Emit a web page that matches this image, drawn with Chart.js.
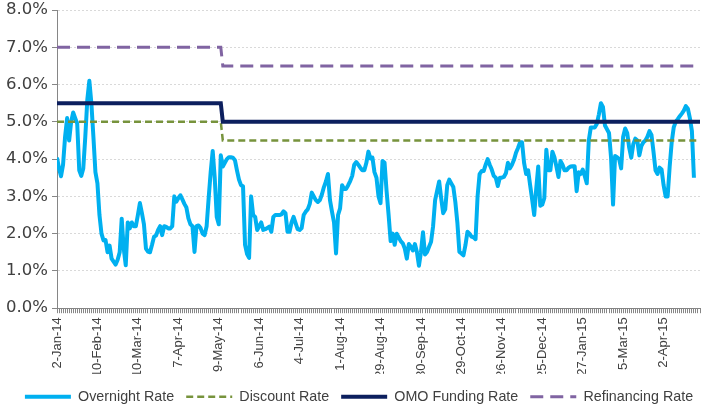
<!DOCTYPE html>
<html>
<head>
<meta charset="utf-8">
<script src="https://cdn.jsdelivr.net/npm/chart.js@4.4.1/dist/chart.umd.min.js"></script>
<style>
    html, body { margin: 0; padding: 0; background: #fff; }
    #wrap { width: 702px; height: 410px; }
</style>
</head>
<body>
<div id="wrap"><canvas id="rateChart" width="702" height="410"></canvas></div>
<script>
// --- Data ---
const tickLabels = ['2-Jan-14', '10-Feb-14', '10-Mar-14', '7-Apr-14', '9-May-14', '6-Jun-14', '4-Jul-14', '1-Aug-14',
    '29-Aug-14', '30-Sep-14', '29-Oct-14', '26-Nov-14', '25-Dec-14', '27-Jan-15', '5-Mar-15', '2-Apr-15'];
const labelEvery = 20;      // one date label every 20 trading days
const lastDay = 318;        // index of the last trading day on the axis

// overnight rate, one value per trading day (%)
const overnight = [
    4.04, 3.75, 3.54, 3.85, 4.6, 5.1, 4.5, 5.0, 5.25, 5.1,
    4.95, 3.7, 3.55, 3.75, 4.6, 5.6, 6.1, 5.5, 4.6, 3.65,
    3.35, 2.5, 2.0, 1.82, 1.83, 1.5, 1.68, 1.33, 1.25, 1.17,
    1.3, 1.5, 2.4, 1.6, 1.15, 2.3, 2.14, 2.3, 2.2, 2.2,
    2.5, 2.82, 2.55, 2.25, 1.6, 1.52, 1.5, 1.7, 1.92, 1.95,
    2.1, 2.2, 1.96, 2.2, 2.18, 2.14, 2.14, 2.2, 3.0, 2.86,
    2.95, 3.03, 2.92, 2.8, 2.7, 2.41, 2.25, 2.2, 1.51, 2.2,
    2.22, 2.15, 2.0, 1.96, 2.2, 2.95, 3.65, 4.22, 3.5, 2.45,
    2.25, 4.1, 3.8, 3.9, 4.0, 4.05, 4.05, 4.04, 3.97, 3.7,
    3.45, 3.3, 3.27, 1.7, 1.45, 1.35, 3.0, 2.5, 2.45, 2.1,
    2.2, 2.3, 2.1, 2.12, 2.15, 2.19, 2.05, 2.45, 2.5, 2.5,
    2.5, 2.52, 2.6, 2.55, 2.05, 2.05, 2.3, 2.45, 2.28, 2.12,
    2.1, 2.15, 2.5, 2.59, 2.65, 2.8, 3.1, 3.0, 2.9, 2.85,
    2.9, 3.05, 3.25, 3.4, 3.6, 2.9, 2.59, 2.3, 1.47, 2.5,
    2.68, 3.3, 3.2, 3.2, 3.3, 3.41, 3.55, 3.85, 3.92, 3.85,
    3.77, 3.7, 3.7, 3.9, 4.2, 4.02, 4.04, 3.65, 3.5, 3.0,
    2.82, 3.95, 3.9, 3.14, 2.5, 1.8, 2.0, 1.7, 2.0, 1.9,
    1.8, 1.74, 1.6, 1.33, 1.72, 1.65, 1.55, 1.72, 1.51, 1.14,
    1.5, 2.04, 1.44, 1.51, 1.65, 1.78, 2.2, 2.9, 3.15, 3.4,
    2.95, 2.55, 2.65, 3.3, 3.45, 3.35, 3.25, 2.85, 2.3, 1.51,
    1.47, 1.42, 1.69, 2.05, 2.0, 1.92, 1.9, 1.85, 3.0, 3.6,
    3.68, 3.68, 3.85, 4.0, 3.85, 3.72, 3.55, 3.5, 3.28, 3.5,
    3.5, 3.52, 3.62, 3.9, 3.75, 3.85, 3.98, 4.17, 4.3, 4.45,
    4.45, 3.9, 3.6, 3.7, 3.3, 2.91, 2.5, 3.2, 3.8, 2.75,
    2.78, 2.95, 4.25, 3.7, 3.7, 4.2, 4.05, 3.8, 3.52, 3.95,
    3.85, 3.7, 3.7, 3.77, 3.8, 3.81, 3.81, 3.14, 3.65, 3.6,
    3.72, 3.55, 3.35, 4.5, 4.85, 4.85, 4.85, 4.95, 5.2, 5.5,
    5.4, 4.9, 4.8, 4.7, 4.05, 2.78, 4.08, 4.05, 4.0, 3.75,
    4.6, 4.82, 4.7, 4.3, 4.04, 4.4, 4.55, 4.5, 4.1, 4.35,
    4.45, 4.5, 4.6, 4.75, 4.65, 4.2, 3.7, 3.6, 3.77, 3.72,
    3.3, 3.0, 3.0, 3.8, 4.45, 4.85, 5.0, 5.07, 5.15, 5.22,
    5.3, 5.42, 5.35, 5.1, 4.75, 3.5
];

// policy rates: value at each change point (trading day index)
const policyDays  = [0, 81, 82, lastDay];
const discount    = [5.0, 5.0, 4.5, 4.5];
const omoFunding  = [5.5, 5.5, 5.0, 5.0];
const refinancing = [7.0, 7.0, 6.5, 6.5];

const toPts = arr => arr.map((v, i) => ({ x: i, y: v }));
const toSteps = arr => arr.map((v, i) => ({ x: policyDays[i], y: v }));

// --- Chart ---
const axisGray = '#868686';
const textGray = '#404040';

// nudge the legend so it sits like the original
const legendShift = {
    id: 'legendShift',
    afterLayout(chart) {
        const lg = chart.legend;
        lg.top += 4; lg.bottom += 4;
        lg.left += 9; lg.right += 9;
    }
};

new Chart(document.getElementById('rateChart').getContext('2d'), {
    type: 'line',
    data: {
        datasets: [
            { label: 'Overnight Rate', data: toPts(overnight), borderColor: '#00B0F0', backgroundColor: '#00B0F0',
              borderWidth: 4, borderJoinStyle: 'round', order: 4 },
            { label: 'Discount Rate', data: toSteps(discount), borderColor: '#77933C', backgroundColor: '#77933C',
              borderWidth: 2.5, borderDash: [7, 4], order: 3 },
            { label: 'OMO Funding Rate', data: toSteps(omoFunding), borderColor: '#0C1F5E', backgroundColor: '#0C1F5E',
              borderWidth: 4, order: 2 },
            { label: 'Refinancing Rate', data: toSteps(refinancing), borderColor: '#8064A2', backgroundColor: '#8064A2',
              borderWidth: 3, borderDash: [13, 7], order: 1 }
        ]
    },
    options: {
        responsive: false, animation: false, devicePixelRatio: 1,
        elements: { point: { radius: 0, hoverRadius: 0 }, line: { tension: 0 } },
        layout: { padding: { top: 10, right: 2, left: 0, bottom: 0 } },
        scales: {
            x: {
                type: 'linear', min: 0, max: lastDay,
                grid: { drawOnChartArea: false, drawTicks: true, tickLength: 5, color: axisGray },
                border: { color: axisGray },
                ticks: {
                    stepSize: 1, maxTicksLimit: 400, autoSkip: false, minRotation: 90, maxRotation: 90, padding: 4,
                    color: textGray, font: { family: '"Liberation Sans", Arial, sans-serif', size: 13 },
                    callback: v => (v % labelEvery === 0 ? (tickLabels[v / labelEvery] || '') : '')
                },
                afterFit: s => { s.height = 65.5; s.paddingLeft = 0; s.paddingRight = 0; }
            },
            y: {
                min: 0, max: 8,
                grid: { color: c => (c.tick && c.tick.value === 0 ? 'rgba(0,0,0,0)' : '#D9D9D9'),
                        tickColor: axisGray, tickLength: 5 },
                border: { color: axisGray, dash: [2, 2] },
                ticks: {
                    stepSize: 1, padding: 4, color: textGray,
                    font: { family: '"DejaVu Sans", sans-serif', size: 16.5 },
                    callback: v => v.toFixed(1) + '%'
                },
                afterFit: s => { s.width = 57; s.paddingTop = 0; s.paddingBottom = 0; }
            }
        },
        plugins: {
            tooltip: { enabled: false },
            legend: {
                position: 'bottom',
                labels: {
                    usePointStyle: true, pointStyle: 'line', pointStyleWidth: 46, padding: 12,
                    color: textGray, font: { family: '"Liberation Sans", Arial, sans-serif', size: 14.3 },
                    sort: (a, b) => a.datasetIndex - b.datasetIndex,
                    // point-style items lose the dataset dash, put it back
                    generateLabels: chart => Chart.defaults.plugins.legend.labels.generateLabels(chart).map(l => {
                        const ds = chart.data.datasets[l.datasetIndex];
                        return { ...l, lineDash: ds.borderDash || [], lineWidth: ds.borderWidth };
                    })
                }
            }
        }
    },
    plugins: [legendShift]
});
</script>
</body>
</html>
